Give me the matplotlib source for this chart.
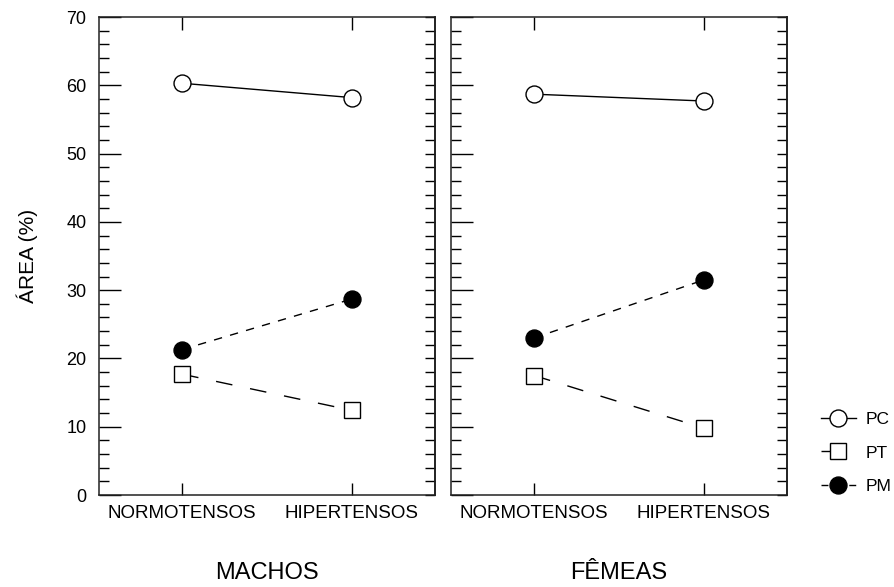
import numpy as np
import matplotlib
matplotlib.use('Agg')
import matplotlib.pyplot as plt
from matplotlib.ticker import MultipleLocator
from matplotlib.lines import Line2D

grupos = ['NORMOTENSOS', 'HIPERTENSOS']
paineis = ['MACHOS', 'FÊMEAS']
series = ['PC', 'PT', 'PM']

pc_machos = [60.3, 58.2]
pt_machos = [17.7, 12.4]
pm_machos = [21.3, 28.7]

pc_femeas = [58.7, 57.7]
pt_femeas = [17.5, 9.8]
pm_femeas = [23.0, 31.5]

plt.rcParams['font.family'] = ['Liberation Sans', 'DejaVu Sans']

# estilo de cada serie: marcador, cor de preenchimento, tracejado
estilos = {
    'PC': dict(marker='o', markerfacecolor='white', linestyle='-'),
    'PT': dict(marker='s', markerfacecolor='white', dashes=(12, 13)),
    'PM': dict(marker='o', markerfacecolor='black', dashes=(6, 6)),
}
comum = dict(color='black', linewidth=1.0, markersize=12.2,
             markeredgewidth=1.0, markeredgecolor='black')


def painel(ax, valores, titulo, rotulos_y):
    x = np.arange(len(grupos))
    for nome, y in zip(series, valores):
        ax.plot(x, y, **estilos[nome], **comum)

    ax.set_xlim(-0.49, 1.49)
    ax.set_ylim(0, 70)
    ax.set_xticks(x)
    ax.set_xticklabels(grupos, fontsize=13.5)
    ax.tick_params(axis='x', direction='in', top=True, length=9,
                   width=1.0, pad=7)
    ax.yaxis.set_major_locator(MultipleLocator(10))
    ax.yaxis.set_minor_locator(MultipleLocator(2))
    ax.tick_params(axis='y', which='major', direction='in', length=16,
                   width=1.0, pad=9, labelsize=13, right=False)
    ax.tick_params(axis='y', which='minor', direction='in', length=7,
                   width=1.0, right=False)
    if not rotulos_y:
        ax.tick_params(axis='y', labelleft=False)

    # lado direito: todos os ticks iguais, a cada 2
    sec = ax.secondary_yaxis('right')
    sec.set_yticks(np.arange(0, 71, 2))
    sec.tick_params(direction='in', length=7, width=1.0, labelright=False)
    sec.spines['right'].set_linewidth(1.1)

    for s in ax.spines.values():
        s.set_linewidth(1.1)
        s.set_color('#222222')

    ax.set_xlabel(titulo, fontsize=17, labelpad=29)


fig = plt.figure(figsize=(8.94, 5.87), dpi=100)
ax1 = fig.add_axes([0.1107, 0.1567, 0.3758, 0.8143])
ax2 = fig.add_axes([0.5045, 0.1567, 0.3758, 0.8143])

painel(ax1, [pc_machos, pt_machos, pm_machos], paineis[0], True)
painel(ax2, [pc_femeas, pt_femeas, pm_femeas], paineis[1], False)
ax1.set_ylabel('ÁREA (%)', fontsize=15, labelpad=20)

# legenda: tracejados ajustados ao comprimento curto do simbolo
leg_estilos = dict(estilos)
leg_estilos['PT'] = dict(marker='s', markerfacecolor='white',
                         linestyle=(0, (12, 20)))
leg_estilos['PM'] = dict(marker='o', markerfacecolor='black',
                         linestyle=(0, (5, 15)))
handles = [Line2D([], [], **leg_estilos[n], **comum) for n in series]
fig.legend(handles, series, loc='center left', bbox_to_anchor=(0.9105, 0.2283),
           frameon=False, fontsize=12.5, handlelength=2.0, handletextpad=0.6,
           labelspacing=1.07, borderaxespad=0)

fig.savefig('out.png', dpi=100)
